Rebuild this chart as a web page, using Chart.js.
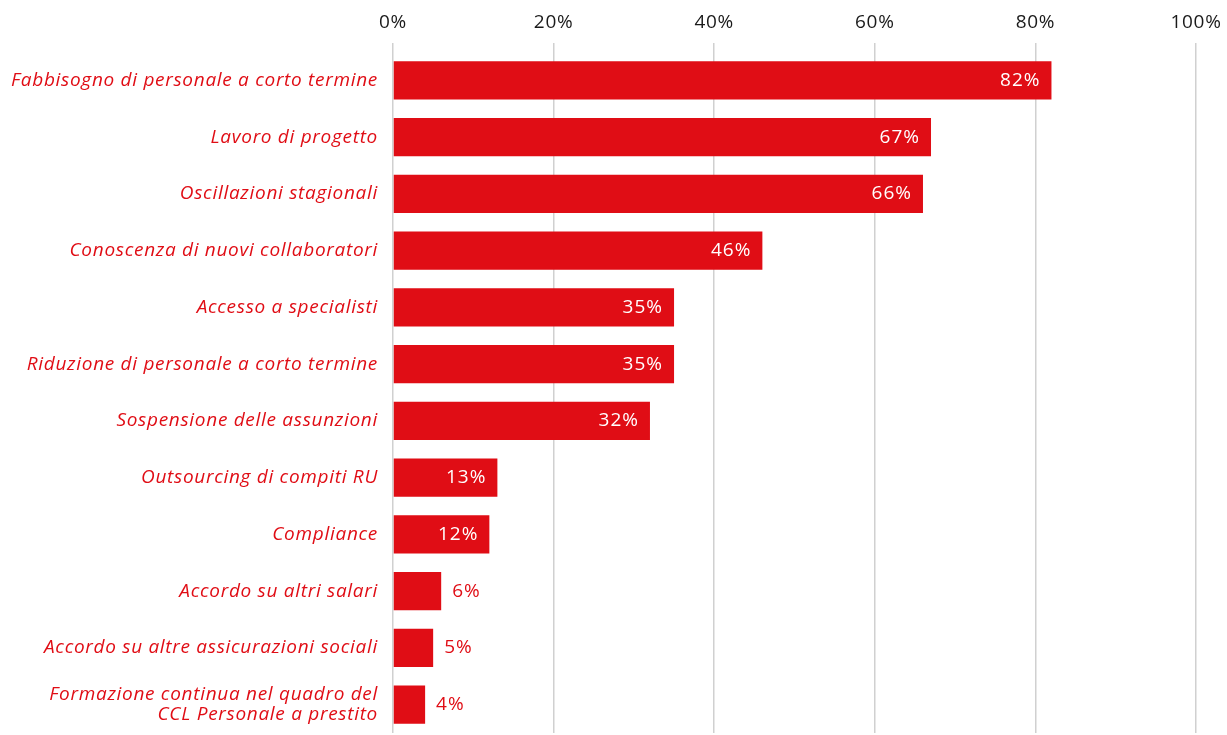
<!DOCTYPE html>
<html>
<head>
<meta charset="utf-8">
<script src="https://cdn.jsdelivr.net/npm/chart.js@4"></script>
<style>
  html, body { margin: 0; padding: 0; background: #fff; }
  #wrap { width: 1227px; height: 735px; }
</style>
</head>
<body>
<div id="wrap"><canvas id="bar-chart"></canvas></div>
<script>
var categories = [
  'Fabbisogno di personale a corto termine',
  'Lavoro di progetto',
  'Oscillazioni stagionali',
  'Conoscenza di nuovi collaboratori',
  'Accesso a specialisti',
  'Riduzione di personale a corto termine',
  'Sospensione delle assunzioni',
  'Outsourcing di compiti RU',
  'Compliance',
  'Accordo su altri salari',
  'Accordo su altre assicurazioni sociali',
  ['Formazione continua nel quadro del', 'CCL Personale a prestito']
]
var percentages = [82, 67, 66, 46, 35, 35, 32, 13, 12, 6, 5, 4]
var tickValues = [0, 20, 40, 60, 80, 100]

var RED = '#e00d15'
var SPACING = '0.7px'

// slightly wider text everywhere (measuring and drawing)
var spacedText = {
  id: 'spacedText',
  beforeLayout: function (chart) { chart.ctx.letterSpacing = SPACING },
  beforeDraw: function (chart) { chart.ctx.letterSpacing = SPACING }
}

// value labels: white inside long bars, red beside short ones
var valueLabels = {
  id: 'valueLabels',
  afterDatasetsDraw: function (chart) {
    var ctx = chart.ctx
    var meta = chart.getDatasetMeta(0)
    ctx.save()
    ctx.letterSpacing = '1px'
    ctx.font = '19px "Open Sans"'
    ctx.textBaseline = 'middle'
    meta.data.forEach(function (bar, i) {
      var v = percentages[i]
      var txt = v + '%'
      if (v >= 10) {
        ctx.fillStyle = '#fff'
        ctx.textAlign = 'right'
        ctx.fillText(txt, bar.x - 11, bar.y)
      } else {
        ctx.fillStyle = RED
        ctx.textAlign = 'left'
        ctx.fillText(txt, bar.x + 11, bar.y)
      }
    })
    ctx.restore()
  }
}

new Chart(document.getElementById('bar-chart'), {
  type: 'bar',
  data: {
    labels: categories,
    datasets: [{
      data: percentages,
      backgroundColor: RED,
      barPercentage: 0.67,
      categoryPercentage: 1
    }]
  },
  plugins: [spacedText, valueLabels],
  options: {
    indexAxis: 'y',
    responsive: true,
    maintainAspectRatio: false,
    animation: false,
    layout: { padding: { left: 0, right: 31, top: 0, bottom: 2 } },
    plugins: {
      legend: { display: false },
      tooltip: { enabled: false }
    },
    scales: {
      x: {
        position: 'top',
        min: 0,
        max: 100,
        afterBuildTicks: function (axis) {
          axis.ticks = tickValues.map(function (v) { return { value: v } })
        },
        afterFit: function (axis) {
          axis.height = 52
          axis.paddingLeft = 0
          axis.paddingRight = 0
        },
        border: { display: false },
        grid: { color: '#d0d0d0', lineWidth: 1.5, tickLength: 9 },
        ticks: {
          color: '#1a1a1a',
          padding: 9,
          font: { family: 'Open Sans', size: 19 },
          callback: function (v) { return v + '%' }
        }
      },
      y: {
        afterFit: function (axis) {
          axis.width = 393
          axis.paddingTop = 0
          axis.paddingBottom = 0
        },
        border: { display: false },
        grid: { display: false, drawTicks: false },
        ticks: {
          color: RED,
          padding: 15,
          font: { family: 'Open Sans', size: 19, style: 'italic', lineHeight: 1.1 }
        }
      }
    }
  }
})
</script>
</body>
</html>
